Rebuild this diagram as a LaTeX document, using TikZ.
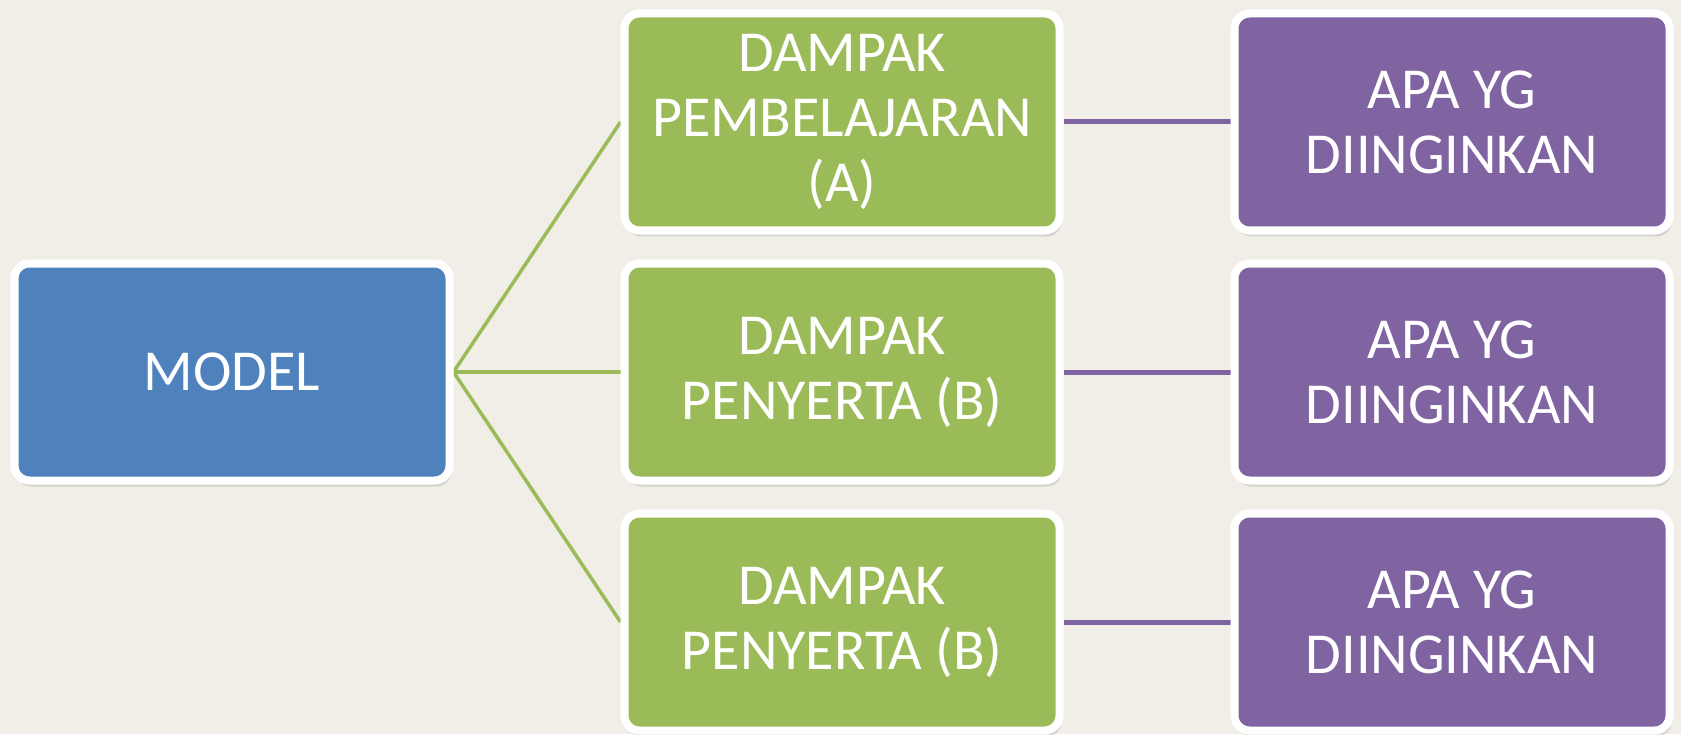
\documentclass[tikz,border=0pt]{standalone}
\usepackage{fontspec}
\setmainfont{Carlito}
\usepackage{tikz}
\usetikzlibrary{positioning}
\usetikzlibrary{shadows,backgrounds}
\definecolor{mybg}{RGB}{240,238,231}
\definecolor{myblue}{RGB}{79,129,189}
\definecolor{mygreen}{RGB}{155,187,89}
\definecolor{mypurple}{RGB}{128,100,162}
\tikzset{main node/.style={rectangle,rounded corners=0.3cm,draw=white,line width=0.16cm,minimum width=8.7cm,minimum height=4.34cm,inner sep=0pt,align=center,text=white,font=\fontsize{33}{37}\selectfont,drop shadow={opacity=0.25,shadow xshift=0.04cm,shadow yshift=-0.12cm}},}

\begin{document}
\begin{tikzpicture}
	\useasboundingbox (0,0) rectangle (33.62,14.68);
	\node[main node, fill=myblue] (model) at (4.64,7.24) {MODEL};
	\node[main node, fill=mygreen] (dpB) [right = 3.34cm of model] {DAMPAK\\PENYERTA (B)};
	\node[main node, fill=mygreen] (dpA) [above = 0.5cm of dpB] {DAMPAK\\PEMBELAJARAN\\(A)};
	\node[main node, fill=mygreen] (dpC) [below = 0.5cm of dpB] {DAMPAK\\PENYERTA (B)};
	\node[main node, fill=mypurple] (goalA) [right = 3.34cm of dpA] {APA YG\\DIINGINKAN};
	\node[main node, fill=mypurple] (goalB) [right = 3.34cm of dpB] {APA YG\\DIINGINKAN};
	\node[main node, fill=mypurple] (goalC) [right = 3.34cm of dpC] {APA YG\\DIINGINKAN};

	\begin{scope}[on background layer]
	    \fill[mybg] (0,0) rectangle (33.62,14.68);
	    \path[draw, mygreen, line width=0.07cm]
	    (model.east) edge (dpA.west)
	    (model.east) edge (dpB.west)
	    (model.east) edge (dpC.west);
	    \path[draw, mypurple, line width=0.1cm]
	    (dpA.east) edge (goalA.west)
	    (dpB.east) edge (goalB.west)
	    (dpC.east) edge (goalC.west);
	\end{scope}
\end{tikzpicture}
\end{document}
